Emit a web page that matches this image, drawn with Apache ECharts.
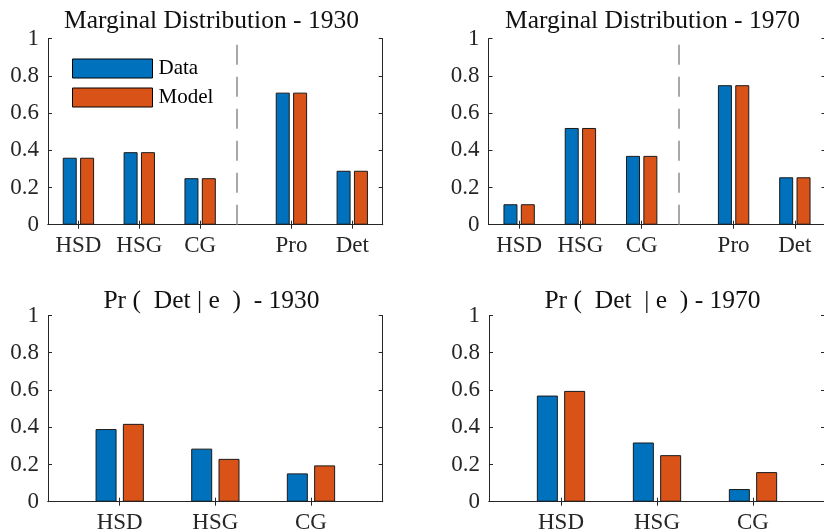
<!DOCTYPE html>
<html><head><meta charset="utf-8">
<script src="https://cdn.jsdelivr.net/npm/echarts@6/dist/echarts.min.js"></script>
<style>html,body{margin:0;padding:0;background:#fff}#c{width:824px;height:532px}</style>
</head><body><div id="c"></div>
<script>
// ---- data ----
const margCats = ['HSD', 'HSG', 'CG', 'Pro', 'Det'];
const condCats = ['HSD', 'HSG', 'CG'];
const marg1930Data  = [0.36, 0.39, 0.25, 0.71, 0.29];
const marg1930Model = [0.36, 0.39, 0.25, 0.71, 0.29];
const marg1970Data  = [0.11, 0.52, 0.37, 0.75, 0.255];
const marg1970Model = [0.11, 0.52, 0.37, 0.75, 0.255];
const cond1930Data  = [0.39, 0.285, 0.152];
const cond1930Model = [0.418, 0.23, 0.195];
const cond1970Data  = [0.57, 0.318, 0.068];
const cond1970Model = [0.595, 0.25, 0.159];
const seriesNames = ['Data', 'Model'];
const titles = ['Marginal Distribution - 1930', 'Marginal Distribution - 1970',
                'Pr (  Det | e  )  - 1930', 'Pr (  Det  | e  ) - 1970'];

// ---- layout (quarter-unit slots on a category axis) ----
const topSlots = 23, topIdx = [2, 6, 10, 16, 20], dividerSlot = 13;
const botSlots = 15, botIdx = [3, 7, 11];
function slotLabels(n, cats, idx) { const a = new Array(n).fill(''); idx.forEach((k, i) => a[k] = cats[i]); return a; }
function slotValues(n, vals, idx) { const a = new Array(n).fill('-'); idx.forEach((k, i) => a[k] = vals[i]); return a; }

const FONT = "'Liberation Serif', 'Times New Roman', serif";
const AX = '#262626';
const BLUE = '#0072BD', ORANGE = '#D95319';

const grids = [
  { left: 48, top: 38.7, width: 334.7, height: 186 },
  { left: 488.5, top: 38.7, width: 337, height: 186 },
  { left: 48, top: 315.5, width: 334.7, height: 186.2 },
  { left: 489, top: 315.5, width: 336, height: 186.2 }
];
const panels = [
  { cats: margCats, idx: topIdx, n: topSlots, d: marg1930Data, m: marg1930Model, divider: true, bw: 14, gap: '24%' },
  { cats: margCats, idx: topIdx, n: topSlots, d: marg1970Data, m: marg1970Model, divider: true, bw: 14, gap: '24%' },
  { cats: condCats, idx: botIdx, n: botSlots, d: cond1930Data, m: cond1930Model, divider: false, bw: 21, gap: '30%' },
  { cats: condCats, idx: botIdx, n: botSlots, d: cond1970Data, m: cond1970Model, divider: false, bw: 21, gap: '30%' }
];

const xAxis = [], yAxis = [], series = [];
panels.forEach((p, g) => {
  const labels = slotLabels(p.n, p.cats, p.idx);
  const tickInt = (i, v) => v !== '';
  xAxis.push({
    type: 'category', gridIndex: g, data: labels, boundaryGap: false, position: 'bottom',
    axisLine: { show: true, lineStyle: { color: AX, width: 1 } },
    axisTick: { show: true, inside: true, length: 4, interval: tickInt, lineStyle: { color: AX } },
    axisLabel: { show: true, interval: tickInt, margin: 10, fontSize: 23, fontFamily: FONT, color: AX },
    splitLine: { show: false }
  });
  xAxis.push({
    type: 'category', gridIndex: g, data: labels, boundaryGap: false, position: 'top',
    axisLine: { show: true, lineStyle: { color: AX, width: 1 } },
    axisTick: { show: true, inside: true, length: 4, interval: tickInt, lineStyle: { color: AX } },
    axisLabel: { show: false }, splitLine: { show: false }
  });
  yAxis.push({
    type: 'value', gridIndex: g, min: 0, max: 1, interval: 0.2, position: 'left',
    axisLine: { show: true, lineStyle: { color: AX, width: 1 } },
    axisTick: { show: true, inside: true, length: 4, lineStyle: { color: AX } },
    axisLabel: { show: true, margin: 9, fontSize: 23, fontFamily: FONT, color: AX },
    splitLine: { show: false }
  });
  yAxis.push({
    type: 'value', gridIndex: g, min: 0, max: 1, interval: 0.2, position: 'right',
    axisLine: { show: true, lineStyle: { color: AX, width: 1 } },
    axisTick: { show: true, inside: true, length: 4, lineStyle: { color: AX } },
    axisLabel: { show: false }, splitLine: { show: false }
  });
  const vals = [p.d, p.m];
  const cols = [BLUE, ORANGE];
  vals.forEach((v, s) => {
    const ser = {
      type: 'bar', name: seriesNames[s], xAxisIndex: 2 * g, yAxisIndex: 2 * g,
      data: slotValues(p.n, v, p.idx), barWidth: p.bw, barGap: p.gap,
      itemStyle: { color: cols[s], borderColor: '#1a1a1a', borderWidth: 1 },
      animation: false, silent: true
    };
    if (s === 0 && p.divider) {
      ser.markLine = {
        silent: true, symbol: ['none', 'none'], animation: false,
        label: { show: false },
        lineStyle: { color: '#8c8c8c', type: [20, 12], width: 1.5 },
        data: [{ xAxis: dividerSlot }]
      };
    }
    series.push(ser);
  });
});

const titleCenters = [211.5, 652.5, 211.5, 652.5];
const titleTops = [8, 8, 288, 288];
const title = titles.map((t, i) => ({
  text: t, left: titleCenters[i], top: titleTops[i], textAlign: 'center', padding: 0,
  textStyle: { fontSize: 25.5, fontWeight: 'normal', fontFamily: FONT, color: '#111' }
}));

const chart = echarts.init(document.getElementById('c'), null, { renderer: 'canvas' });
chart.setOption({
  backgroundColor: '#fff',
  animation: false,
  title: title,
  grid: grids.map(g => Object.assign({ containLabel: false, outerBoundsMode: 'none' }, g)),
  legend: {
    data: seriesNames, orient: 'vertical', left: 72, top: 58, padding: 0,
    itemWidth: 80, itemHeight: 19, itemGap: 8, icon: 'rect',
    itemStyle: { borderColor: '#000', borderWidth: 1 },
    textStyle: { fontSize: 21, fontFamily: FONT, color: '#000', padding: [0, 0, 0, 1] },
    selectedMode: false
  },
  xAxis: xAxis, yAxis: yAxis, series: series
});
</script>
</body></html>
